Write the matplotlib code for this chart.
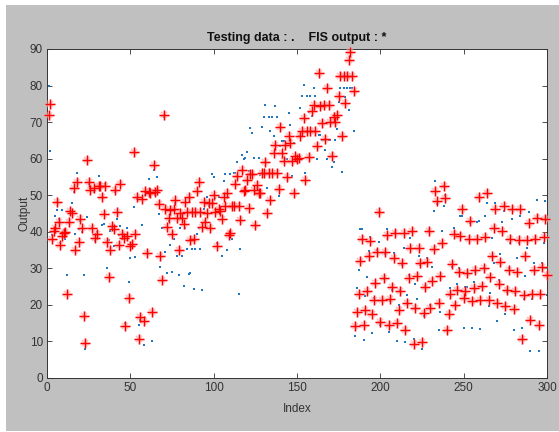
import matplotlib
matplotlib.use('Agg')
import matplotlib.pyplot as plt
from matplotlib.patches import Rectangle
import numpy as np

# Testing data (dots) and FIS output (stars), one value per sample index
testing_data = [
    80, 62, 39, 40.9, 44.3, 46, 43.6, 37, 46, 40.5,
    38.1, 28.1, 42.5, 45, 47.8, 51, 39.3, 56.2, 40.7, 43,
    40, 28.2, 8, 44.1, 53, 52, 41.1, 51, 37.5, 40,
    55.3, 52, 41.8, 42, 53, 30.2, 37.8, 40.2, 41, 36.1,
    51, 43.6, 39, 41.6, 37.9, 38, 15.1, 40.9, 26.3, 32.9,
    36, 46.9, 33.2, 49, 14.6, 16, 41.8, 9.1, 50, 34,
    54.4, 51.6, 10, 57, 50, 55.1, 44.8, 30.3, 40.9, 71.5,
    34.5, 28.8, 43, 36.3, 29, 37.9, 48, 33.4, 28.1, 41.1,
    33.4, 25.3, 41.1, 35.4, 28.4, 28.6, 35.4, 24.4, 35.4, 39.3,
    40.9, 35.4, 24, 46.2, 43, 49.4, 47, 41, 55.8, 55,
    49.3, 37, 49.4, 46, 33.4, 54, 55.9, 35, 39.5, 55.9,
    38.1, 56, 56.2, 59.1, 22.9, 35.2, 61, 59.9, 60.3, 61.7,
    56.7, 68.3, 66.9, 60.1, 51, 52, 60.1, 55.5, 68.6, 71.3,
    74.7, 52.1, 71.3, 67.6, 71.3, 66.1, 74.5, 71.3, 49.8, 63.5,
    64.9, 64.9, 59.9, 59.9, 72.4, 69.2, 55.3, 64.4, 60.3,
    59, 66.3, 73.8, 77.2, 80.2, 56, 77.2, 72.9, 77.2, 71.6,
    79.3, 77.2, 59.9, 66.5, 66.5, 65.2, 65.2, 62.4, 60, 65.2,
    65.2, 57.6, 59.1, 65.2, 68.1, 75.4, 79.3, 56.4, 79.3, 76.8,
    79.3, 73.4, 79.3, 79.3, 67.6,
    11.6, 24.7, 29.5, 40.7, 40.7, 10.5, 22.4, 27.7, 34.7, 38.5,
    12.3, 21.9, 25.6, 35, 37.2, 14.5, 21, 27, 34, 40.7,
    12.5, 21, 24, 34.3, 40, 10, 20.1, 24.2, 31, 35.6,
    9.8, 22.6, 28.3, 38.4, 40, 10.7, 25.6, 21.7, 33.5, 31,
    7.8, 17, 25.3, 32.9, 40.5, 20.1, 30.4, 45.7, 53.9, 47.5,
    13.1, 18, 40.2, 47.1, 50, 13, 22.6, 24.7, 30.4, 40.9,
    20, 25.6, 30.2, 44.3, 44.3, 13.7, 25, 25, 38, 42.5,
    13.7, 26.2, 29, 42.7, 43, 13.3, 25, 30, 44.3, 47.8,
    19.7, 23.3, 38.4, 31.5, 48, 15.5, 26.7, 33.8, 42.7, 45.7,
    17.4, 23.5, 30.2, 36.8, 43.6, 13.1, 23.3, 32.9, 36.8, 44.3,
    13.7, 21.5, 27.9, 35.6, 45.4, 7.3, 21.5, 31.4, 37.9, 48.7,
    7.5, 23.1, 31.4, 36.8, 48.3, 22.6,
]

fis_output = [
    72, 75, 38, 40.2, 40.9, 48.2, 42.7, 36.3, 38.8, 39.8,
    40, 22.9, 42.8, 45.8, 45.2, 52.1, 34.9, 53.5, 37.3, 43.4,
    41, 16.9, 9.6, 59.7, 53.6, 51.5, 40.9, 52.1, 38.2, 39.3,
    52.6, 52.6, 49.4, 44.8, 52.6, 37.3, 27.7, 35, 41.6, 40.7,
    51.5, 45.5, 36.4, 53, 39.3, 38.2, 14.2, 38.8, 21.8, 36,
    36.6, 61.7, 39.3, 49.6, 10.8, 16.7, 49.1, 15.5, 51.2, 34.1,
    50.9, 50.7, 18, 58.3, 50.9, 51.5, 47.5, 33.4, 26.7, 71.9,
    46.2, 41.3, 43.9, 46, 39.5, 46.2, 48.7, 43.9, 35, 45.2,
    43.9, 42, 48.2, 45.4, 49.4, 37.8, 45.4, 38.1, 45.4, 51.2,
    53.7, 45.4, 41.3, 48.2, 42.7, 45.2, 48, 40.9, 48, 50,
    45.4, 36.1, 46.3, 45.7, 43.6, 49.4, 47.1, 50.7, 39, 39.8,
    47.1, 47.1, 53, 55.3, 47.1, 43.2, 56.9, 51.2, 51.5, 54.2,
    46.6, 55.8, 55.9, 51.5, 41.9, 52.7, 50.7, 50.7, 56, 56,
    59.1, 45.2, 56, 48.7, 56, 61.5, 63.7, 56, 51.8, 68.7,
    61.5, 59.4, 63.8, 55.1, 66.3, 64.4, 59.4, 50.5, 60.6,
    59.9, 60.3, 66.1, 67.6, 71, 54.2, 67.6, 60.5, 67.6, 73.1,
    74.7, 67.6, 63.5, 83.5, 74.5, 69.7, 74.7, 65.5, 79.3, 74.7,
    69.9, 60.8, 71.3, 69.9, 71.9, 77.2, 82.5, 66.1, 82.5, 75.2,
    82.5, 87.1, 89.1, 82.5, 78.4,
    14.2, 18, 23.1, 32, 38.1, 14.4, 18.6, 23.8, 33.4, 37.5,
    17.6, 21.3, 25.9, 34.5, 45.4, 15.3, 21.3, 27.4, 34.5, 39,
    14.4, 21.7, 25, 32.9, 39.6, 15.1, 18.7, 23.8, 31.4, 39.6,
    13.1, 20.4, 27.4, 35.6, 40.2, 9.4, 19.2, 27.9, 35.6, 31.4,
    9.8, 17.8, 25, 31.7, 40.2, 19.2, 26.5, 35.4, 51.2, 48.4,
    20.6, 27.9, 36.8, 52.6, 49.2, 13.1, 17.6, 22.9, 31.1, 39.3,
    20.1, 24, 29, 38.8, 46.3, 21.9, 23.8, 28.8, 38.1, 43,
    21, 24.7, 29.6, 38.1, 49.4, 21.3, 25.3, 30.2, 38.7, 50.7,
    21.3, 27.7, 33.5, 40.9, 46.3, 20.4, 25.8, 31.7, 40.2, 47.1,
    19.8, 24.2, 29.5, 38.1, 46.3, 18.9, 23.8, 29, 37.8, 46.3,
    10.7, 22.6, 33.5, 37.8, 42.5, 15.8, 22.9, 29.5, 38.1, 43.9,
    14.4, 22.9, 30.4, 38.7, 43.6, 28.3,
]

x_ticks = [0, 50, 100, 150, 200, 250, 300]
y_ticks = [0, 10, 20, 30, 40, 50, 60, 70, 80, 90]

index = np.arange(1, len(fis_output) + 1)

plt.rcParams['font.family'] = ['Liberation Sans Narrow', 'Liberation Sans', 'DejaVu Sans']
axis_color = '#333333'

fig = plt.figure(figsize=(5.59, 4.32), dpi=100, facecolor='white')
# grey figure panel behind the axes
fig.patches.append(Rectangle((6 / 559, 1 / 432), 1 - 6 / 559, 1 - 6 / 432,
                             transform=fig.transFigure, facecolor='#c0c0c0',
                             edgecolor='none', zorder=-10))

ax = fig.add_axes([47 / 559, 54 / 432, 500 / 559, 329 / 432])
ax.set_facecolor('white')

# testing data as small dots
ax.plot(index, testing_data, linestyle='none', marker='s', markersize=1.7,
        color='#1f77c4', markeredgewidth=0, clip_on=False, zorder=2)

# FIS output as asterisks: faint diagonals under a solid red plus
ax.plot(index, fis_output, linestyle='none', marker='x', markersize=5,
        markeredgewidth=1.5, color='#ff9a9a', alpha=0.55, clip_on=False, zorder=3)
ax.plot(index, fis_output, linestyle='none', marker='+', markersize=7,
        markeredgewidth=2.0, color='#ffb4b4', alpha=0.5, clip_on=False, zorder=3)
ax.plot(index, fis_output, linestyle='none', marker='+', markersize=6.5,
        markeredgewidth=1.0, color='#ff0000', clip_on=False, zorder=4)

ax.set_xlim(0, 300)
ax.set_ylim(0, 90)
ax.set_xticks(x_ticks)
ax.set_yticks(y_ticks)
ax.tick_params(direction='in', length=3.5, width=0.6, colors=axis_color,
               labelsize=8.5, top=True, right=True, pad=3)
for side in ax.spines.values():
    side.set_color(axis_color)
    side.set_linewidth(0.7)

ax.set_title('Testing data : .    FIS output : *', fontsize=9, fontweight='bold',
             color='#111111', pad=6)
ax.set_xlabel('Index', fontsize=8.5, color=axis_color, labelpad=6)
ax.set_ylabel('Output', fontsize=8.5, color=axis_color, labelpad=-1)

fig.savefig('out.png', dpi=100, facecolor=fig.get_facecolor())
